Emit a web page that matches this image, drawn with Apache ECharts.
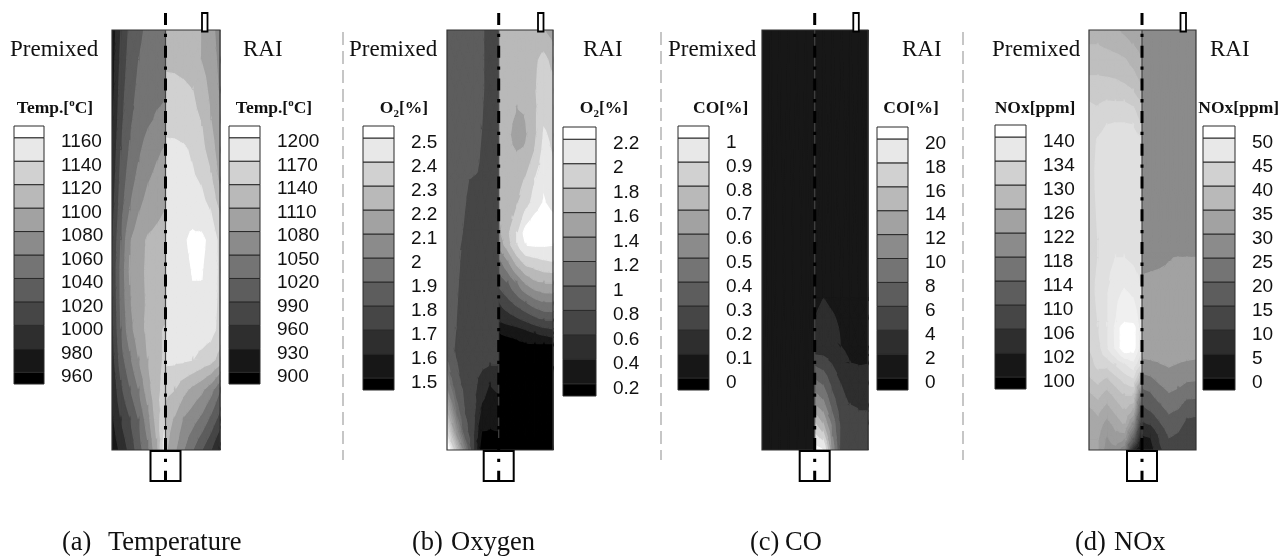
<!DOCTYPE html>
<html><head><meta charset="utf-8">
<style>html,body{margin:0;padding:0;background:#fff}#c{width:1288px;height:556px}</style>
<script src="https://cdn.jsdelivr.net/npm/echarts@6/dist/echarts.min.js"></script>
</head><body><div id="c"></div>
<script>
// ---------- legend tick labels ----------
const labelsTempPremixed=['960','980','1000','1020','1040','1060','1080','1100','1120','1140','1160'];
const labelsTempRai=['900','930','960','990','1020','1050','1080','1110','1140','1170','1200'];
const labelsO2Premixed=['1.5','1.6','1.7','1.8','1.9','2','2.1','2.2','2.3','2.4','2.5'];
const labelsO2Rai=['0.2','0.4','0.6','0.8','1','1.2','1.4','1.6','1.8','2','2.2'];
const labelsCoPremixed=['0','0.1','0.2','0.3','0.4','0.5','0.6','0.7','0.8','0.9','1'];
const labelsCoRai=['0','2','4','6','8','10','12','14','16','18','20'];
const labelsNoxPremixed=['100','102','106','110','114','118','122','126','130','134','140'];
const labelsNoxRai=['0','5','10','15','20','25','30','35','40','45','50'];
// ---------- extra contour levels beyond the legend ticks ----------
const extraO2Premixed=[1.95,2.05,2.15,2.25,2.35,2.45];
const extraNoxPremixed=[104,108,112,116,120,124,128,132,136,138];
// ---------- radial stations, centre to wall ----------
const radial=[0,1,2,3,4,5,6];
// ---------- temperature, degC. rows are heights, top of the chamber first ----------
const heightsTemp=[420,390,360,330,300,270,240,210,180,150,120,90,60,30,0];
const tempPremixed=[
[1055,1050,1044,1035,1024,1000,965],
[1056,1052,1047,1040,1028,1005,968],
[1058,1055,1052,1044,1032,1010,970],
[1064,1062,1056,1048,1036,1014,975],
[1082,1076,1068,1056,1042,1020,980],
[1090,1085,1078,1066,1050,1026,985],
[1100,1094,1088,1078,1060,1032,990],
[1110,1106,1102,1092,1078,1040,995],
[1112,1108,1103,1094,1082,1045,998],
[1110,1108,1102,1094,1078,1044,996],
[1122,1116,1104,1092,1072,1040,992],
[1122,1116,1100,1080,1055,1030,988],
[1126,1115,1090,1060,1038,1015,980],
[1140,1108,1070,1040,1018,1000,975],
[1155,1095,1055,1030,1005,985,965]];
const tempRai=[
[1125,1125,1122,1118,1110,1090,1065],
[1133,1133,1130,1125,1108,1095,1070],
[1150,1148,1145,1140,1125,1100,1075],
[1158,1156,1153,1148,1138,1110,1080],
[1178,1178,1174,1165,1148,1125,1088],
[1182,1182,1180,1174,1166,1145,1100],
[1186,1188,1190,1188,1180,1168,1135],
[1188,1192,1196,1206,1206,1190,1160],
[1188,1192,1194,1201,1201,1188,1162],
[1186,1190,1193,1198,1198,1184,1162],
[1180,1182,1184,1186,1186,1180,1160],
[1176,1175,1174,1170,1160,1150,1125],
[1148,1140,1118,1100,1085,1060,1020],
[1125,1105,1075,1060,1040,1010,975],
[1115,1085,1050,1020,990,960,920]];
// ---------- oxygen, % ----------
const heightsO2Premixed=[420,390,360,320,278,270,220,170,120,98,85,65,40,18,0];
const o2Premixed=[
[1.75,1.77,1.81,1.84,1.84,1.84,1.84],
[1.75,1.77,1.81,1.84,1.84,1.84,1.84],
[1.75,1.77,1.81,1.84,1.85,1.85,1.85],
[1.74,1.76,1.80,1.83,1.84,1.85,1.85],
[1.74,1.76,1.79,1.81,1.83,1.85,1.85],
[1.74,1.75,1.78,1.79,1.81,1.84,1.85],
[1.73,1.74,1.75,1.77,1.795,1.82,1.84],
[1.72,1.73,1.74,1.75,1.78,1.81,1.84],
[1.72,1.72,1.73,1.75,1.77,1.80,1.83],
[1.71,1.72,1.72,1.74,1.76,1.79,1.85],
[1.70,1.70,1.72,1.74,1.76,1.81,1.92],
[1.62,1.60,1.65,1.74,1.77,1.84,2.0],
[1.56,1.55,1.58,1.74,1.80,1.95,2.2],
[1.50,1.49,1.50,1.72,1.85,2.10,2.40],
[1.43,1.43,1.44,1.72,2.0,2.3,2.6]];
const heightsO2Rai=[420,390,360,342,315,300,270,247,217,205,187,167,147,130,117,105,83,0];
const o2Rai=[
[1.64,1.68,1.70,1.70,1.68,1.60,1.50],
[1.66,1.70,1.72,1.73,1.76,1.86,1.72],
[1.64,1.68,1.70,1.72,1.78,1.92,1.90],
[1.62,1.66,1.60,1.62,1.76,1.94,1.92],
[1.62,1.64,1.50,1.58,1.76,2.02,1.96],
[1.62,1.64,1.59,1.62,1.80,2.06,1.98],
[1.62,1.66,1.72,1.82,2.0,2.14,2.04],
[1.62,1.68,1.78,1.92,2.08,2.22,2.10],
[1.55,1.75,2.0,2.28,2.40,2.45,2.40],
[1.45,1.70,2.0,2.20,2.22,2.22,2.20],
[1.10,1.35,1.65,1.85,1.90,1.95,1.98],
[0.85,1.0,1.2,1.42,1.55,1.6,1.6],
[0.6,0.72,0.85,0.98,1.1,1.18,1.2],
[0.42,0.48,0.55,0.63,0.72,0.8,0.8],
[0.2,0.23,0.25,0.32,0.4,0.45,0.5],
[0.1,0.12,0.15,0.17,0.18,0.19,0.2],
[0.08,0.08,0.08,0.08,0.08,0.08,0.08],
[0.05,0.05,0.05,0.05,0.05,0.05,0.05]];
// ---------- CO, % ----------
const heightsCoPremixed=[420,0];
const coPremixed=[
[0.05,0.05,0.05,0.05,0.05,0.05,0.05],
[0.05,0.05,0.05,0.05,0.05,0.05,0.05]];
const heightsCoRai=[420,152,150,132,103,95,87,67,45,27,0];
const coRai=[
[0.5,0.5,0.5,0.5,0.5,0.5,0.5],
[1,1,1,1,1,1,1],
[1.5,2.05,1.6,1.2,1,1,1],
[2.0,2.6,2.2,1.6,1.3,1.2,1],
[3.0,3.2,3.0,2.0,1.5,1.3,1.2],
[4.0,3.8,3.4,2.4,1.7,1.5,1.4],
[5.5,4.9,3.8,2.8,2.0,1.9,1.95],
[8.5,7.5,5.2,3.9,3.0,2.6,2.6],
[12,10.5,7,4.6,4.0,3.9,3.9],
[16,13.5,9,5.2,4.5,4.2,4.2],
[21,20,11,5,4.6,4.4,4.3]];
// ---------- NOx, ppm ----------
const heightsNoxPremixed=[420,405,390,374,360,348,325,310,280,210,192,158,128,122,102,85,70,55,40,25,10,0];
const noxPremixed=[
[124.5,125,125.6,126.2,127,127,127],
[125.2,126,126.6,127,127.6,128,128],
[126,127.2,128.2,128.8,129,129,129],
[127,128.5,129.2,129.7,129.9,130,130],
[128,130,130.6,131,131,131,131],
[130,131.5,132,132,132.1,131.8,132],
[132,134,134.2,134.2,134,133,132.5],
[134.2,135,135,135,135,134.2,132.8],
[135,135,135,135,135,134.5,133],
[135,135.2,135.4,135.5,135,134,133],
[135,135.5,136,136,135.2,134,133],
[136,137.6,138.2,137.4,135.8,134.5,132.8],
[136.5,139.6,139.8,138,136,134,132.5],
[136.5,141,141.5,138.3,136,134,132.5],
[136,141,141.5,138.2,135.8,133,132],
[133,137,135.5,134,132.5,132.5,131],
[126,133.5,132.5,131,129.5,130.5,129.5],
[114,130,130,128.5,127,128.5,127.5],
[108,126,128,126.5,125,126.5,125.5],
[103,120,126,124.5,123,125,124],
[99,112,122,123,121.5,124,124],
[98,103,118,121,121,124,124.5]];
const heightsNoxRai=[420,197,192,178,117,92,77,62,45,30,15,0];
const noxRai=[
[28,28,28,28,28,28,28],
[28,28,28,28.5,28.8,28.8,28.8],
[28.5,28.5,29,29.8,30.2,30.2,30.2],
[29.9,30,30.3,30.5,30.5,30.5,30.5],
[32,32,32,32,32,32,32],
[30,30.5,31,31.5,31,30.5,30.2],
[25,26,28,29,28,27,27],
[20,21,24,26,25,23.5,23],
[15,17,19.5,22,21,18,18],
[10.5,12,15.5,18.5,17,14.5,14],
[5,5.5,11,15.5,14.5,12,12],
[2,3,9,12.5,12,10.5,10]];

// ---------- layout ----------
const GREY_STEP=255/11;
const panels=[
 {box:[112,165.5,220],inj:204.5,sep:null,caption:['(a)',62,'Temperature',108],
  title:'{b|Temp.[}{s|o}{b|C]}',premX:10,raiX:243,
  left:{labels:labelsTempPremixed,heights:heightsTemp,vals:tempPremixed,bar:[14,44,126,384],lab:61,tx:55},
  right:{labels:labelsTempRai,heights:heightsTemp,vals:tempRai,bar:[229,260,126,384],lab:277,tx:274}},
 {box:[447,498.7,553],inj:540.5,sep:343,caption:['(b)',412,'Oxygen',451],
  title:'{b|O}{u|2}{b|[%]}',premX:349,raiX:583,
  left:{labels:labelsO2Premixed,extra:extraO2Premixed,heights:heightsO2Premixed,vals:o2Premixed,bar:[363,394,126,390],lab:411,tx:404},
  right:{labels:labelsO2Rai,heights:heightsO2Rai,vals:o2Rai,bar:[563,596,127,396],lab:613,tx:604}},
 {box:[762,814.7,868],inj:855.8,sep:661,caption:['(c)',750,'CO',785],
  title:'{b|CO[%]}',premX:668,raiX:902,
  left:{labels:labelsCoPremixed,heights:heightsCoPremixed,vals:coPremixed,bar:[678,709,126,390],lab:726,tx:720.7},
  right:{labels:labelsCoRai,heights:heightsCoRai,vals:coRai,bar:[877,908,127,390],lab:925,tx:911}},
 {box:[1089,1142,1196],inj:1183,sep:963,caption:['(d)',1075,'NOx',1114],
  title:'{b|NOx[ppm]}',premX:992,raiX:1210,
  left:{labels:labelsNoxPremixed,extra:extraNoxPremixed,heights:heightsNoxPremixed,vals:noxPremixed,bar:[995,1026,125,389],lab:1043,tx:1035},
  right:{labels:labelsNoxRai,heights:heightsNoxRai,vals:noxRai,bar:[1203,1235,126,390],lab:1252,tx:1238.7}}
];
const FIELD_TOP=30,FIELD_BOTTOM=450,H=556,W=1288;

function greyOf(idx){const g=Math.max(0,Math.min(255,Math.round(idx*GREY_STEP)));return 'rgb('+g+','+g+','+g+')';}
function clip(poly,lim,keepAbove){
  const out=[];
  for(let i=0;i<poly.length;i++){
    const a=poly[i],b=poly[(i+1)%poly.length];
    const ia=keepAbove?a[2]>=lim:a[2]<=lim, ib=keepAbove?b[2]>=lim:b[2]<=lim;
    if(ia)out.push(a);
    if(ia!==ib){const t=(lim-a[2])/(b[2]-a[2]);out.push([a[0]+t*(b[0]-a[0]),a[1]+t*(b[1]-a[1]),lim]);}
  }
  return out;
}
function makeBands(levels,extra){
  const interp=x=>{for(let i=0;i<levels.length-1;i++){if(x<=levels[i+1])return i+(x-levels[i])/(levels[i+1]-levels[i]);}return levels.length-1;};
  const all=[...levels,...(extra||[])].sort((a,b)=>a-b);
  const bands=[{lo:-1e9,hi:all[0],c:greyOf(0)}];
  for(let i=0;i<all.length-1;i++){
    const mid=interp((all[i]+all[i+1])/2);
    bands.push({lo:all[i],hi:all[i+1],c:greyOf(mid+0.5)});
  }
  bands.push({lo:all[all.length-1],hi:1e9,c:greyOf(11)});
  return bands;
}
const grids=[],xAxes=[],yAxes=[],series=[];
function addGrid(g,x,y){const i=grids.length;grids.push(g);xAxes.push(Object.assign({gridIndex:i},x));yAxes.push(Object.assign({gridIndex:i},y));return i;}
function addField(side,x0,x1,inverse){
  const levels=side.labels.map(Number),bands=makeBands(levels,side.extra);
  const idx=addGrid({left:Math.min(x0,x1),width:Math.abs(x1-x0),top:FIELD_TOP,height:FIELD_BOTTOM-FIELD_TOP},
    {type:'value',min:0,max:6,inverse,show:false},{type:'value',min:0,max:420,show:false});
  const data=[];
  for(let j=0;j<side.heights.length-1;j++)for(let i=0;i<radial.length-1;i++){
    data.push([radial[i],side.heights[j+1],radial[i+1],side.heights[j],
      side.vals[j+1][i],side.vals[j+1][i+1],side.vals[j][i],side.vals[j][i+1]]);
  }
  series.push({type:'custom',xAxisIndex:idx,yAxisIndex:idx,silent:true,animation:false,clip:true,
    encode:{x:[0,2],y:[1,3]},data,
    renderItem(p,api){
      const r0=api.value(0),z0=api.value(1),r1=api.value(2),z1=api.value(3);
      const a=[r0,z0,api.value(4)],b=[r1,z0,api.value(5)],c=[r0,z1,api.value(6)],d=[r1,z1,api.value(7)];
      const m=[(r0+r1)/2,(z0+z1)/2,(a[2]+b[2]+c[2]+d[2])/4];
      const children=[];
      [[a,b,m],[b,d,m],[d,c,m],[c,a,m]].forEach(tri=>{
        const vs=tri.map(t=>t[2]),mn=Math.min(...vs),mx=Math.max(...vs);
        bands.forEach(bd=>{
          if(mx<bd.lo||mn>bd.hi)return;
          let poly=clip(tri,bd.lo,true);
          if(poly.length)poly=clip(poly,bd.hi,false);
          if(poly.length<3)return;
          children.push({type:'polygon',shape:{points:poly.map(q=>api.coord([q[0],q[1]]))},
            style:{fill:bd.c,stroke:bd.c,lineWidth:1.3}});
        });
      });
      return {type:'group',children};
    }});
}
function addBar(side){
  const [x0,x1,y0,y1]=side.bar;
  const labels=side.labels;
  const idx=addGrid({left:x0,width:x1-x0,top:y0,height:y1-y0},
    {type:'value',min:0,max:1,show:false},
    {type:'value',min:0,max:11,interval:0.5,position:'right',
     axisLine:{show:false},axisTick:{show:false},splitLine:{show:false},
     axisLabel:{show:true,margin:side.lab-x1,align:'left',verticalAlign:'top',lineHeight:9,
       fontFamily:'Liberation Sans',fontSize:19,color:'#111',
       formatter:v=>{const k=v-0.5;return Number.isInteger(k)&&labels[k]!==undefined?labels[k]:'';}}});
  const data=[];
  for(let k=0;k<12;k++)data.push([k===0?0:k-0.5,k===11?11:k+0.5,k]);
  series.push({type:'custom',xAxisIndex:idx,yAxisIndex:idx,silent:true,animation:false,
    encode:{y:[0,1]},data,
    renderItem(p,api){
      const a=api.coord([0,api.value(0)]),b=api.coord([1,api.value(1)]);
      return {type:'rect',shape:{x:a[0],y:b[1],width:b[0]-a[0],height:a[1]-b[1]},
        style:{fill:greyOf(api.value(2)),stroke:'#2a2a2a',lineWidth:1}};
    }});
}
const gfx=[];
const serif='Liberation Serif';
function text(x,y,t,size,opt){
  gfx.push({type:'text',x,y,z:120,silent:true,style:Object.assign({text:t,fill:'#111',align:'left',verticalAlign:'middle',
    font:size+'px "'+serif+'"'},opt||{})});
}
const rich={b:{fontFamily:serif,fontWeight:'bold',fontSize:17.5,lineHeight:22,color:'#111'},
  s:{fontFamily:serif,fontWeight:'bold',fontSize:11,lineHeight:22,verticalAlign:'top',color:'#111',padding:[0,0,5,0]},
  u:{fontFamily:serif,fontWeight:'bold',fontSize:11,lineHeight:22,verticalAlign:'bottom',color:'#111',padding:[5,0,0,0]}};
panels.forEach(p=>{
  const [bl,bc,br]=p.box;
  addField(p.left,bc,bl,true);
  addField(p.right,bc,br,false);
  addBar(p.left);addBar(p.right);
  gfx.push({type:'rect',z:100,silent:true,shape:{x:bl,y:FIELD_TOP,width:br-bl,height:FIELD_BOTTOM-FIELD_TOP},style:{fill:'transparent',stroke:'#333',lineWidth:1.2}});
  gfx.push({type:'line',z:101,silent:true,shape:{x1:bc,y1:FIELD_TOP,x2:bc,y2:FIELD_BOTTOM},style:{stroke:'#444',lineWidth:1.2}});
  gfx.push({type:'rect',z:102,silent:true,shape:{x:bc-15,y:451,width:30,height:30},style:{fill:'#fff',stroke:'#000',lineWidth:2}});
  gfx.push({type:'rect',z:102,silent:true,shape:{x:p.inj-2.5,y:13,width:5.5,height:18.5},style:{fill:'#fff',stroke:'#000',lineWidth:1.8}});
  gfx.push({type:'line',z:103,silent:true,shape:{x1:bc,y1:13,x2:bc,y2:481},style:{stroke:'#000',lineWidth:3,lineDash:[12,8.7,3.3,8.7]}});
  if(p.sep!==null)gfx.push({type:'line',z:90,silent:true,shape:{x1:p.sep,y1:32,x2:p.sep,y2:460},style:{stroke:'#c6c6c6',lineWidth:2,lineDash:[13,6]}});
  text(p.premX,50,'Premixed',23);
  text(p.raiX,50,'RAI',23);
  [p.left,p.right].forEach(s=>gfx.push({type:'text',x:s.tx,y:108.5,z:120,silent:true,style:{text:p.title,rich,align:'center',verticalAlign:'middle',fill:'#111'}}));
  text(p.caption[1],543,p.caption[0],26.5);
  text(p.caption[3],543,p.caption[2],26.5);
});
const chart=echarts.init(document.getElementById('c'),null,{renderer:'canvas',width:W,height:H});
chart.setOption({animation:false,backgroundColor:'#fff',grid:grids,xAxis:xAxes,yAxis:yAxes,series,
  graphic:{z:100,elements:gfx}});
</script></body></html>
